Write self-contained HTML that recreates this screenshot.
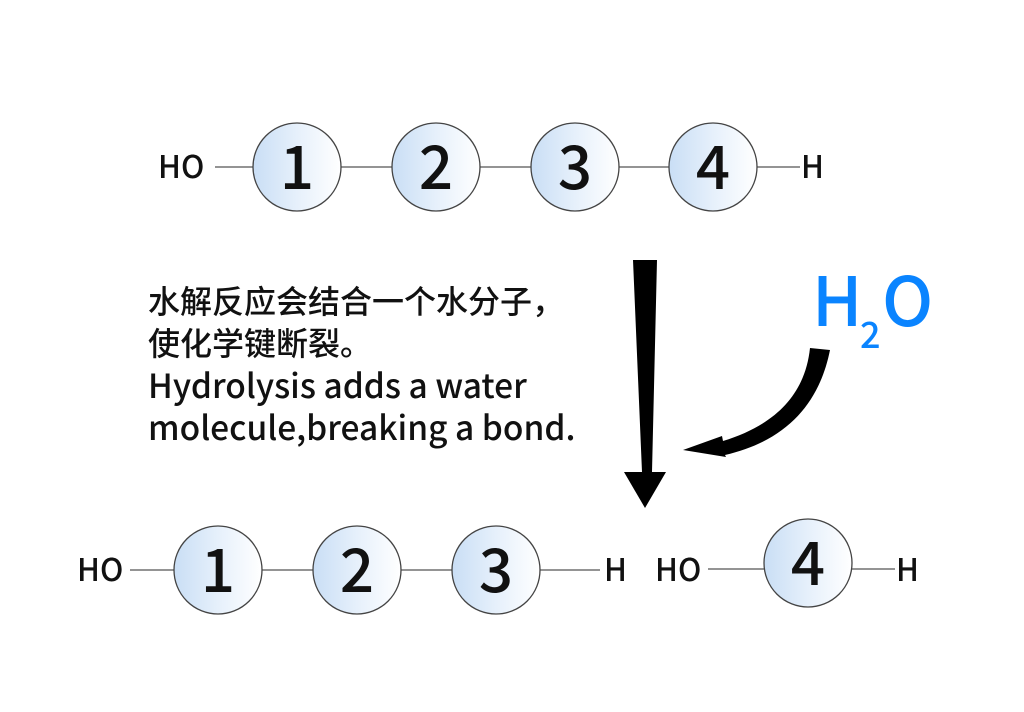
<!DOCTYPE html>
<html><head><meta charset="utf-8"><style>
html,body{margin:0;padding:0;background:#fff;}
svg{display:block;}
text{font-family:"Noto Sans CJK SC","Liberation Sans",sans-serif;font-weight:500;}
</style></head><body>
<svg width="1024" height="712" viewBox="0 0 1024 712" xmlns="http://www.w3.org/2000/svg">
<defs>
<linearGradient id="g" x1="0" y1="0" x2="1" y2="0">
<stop offset="0" stop-color="#c9def5"/><stop offset="0.5" stop-color="#e6f0fb"/><stop offset="1" stop-color="#ffffff"/>
</linearGradient>
</defs>
<g stroke="#555" stroke-width="1.3">
<line x1="215" y1="167" x2="800" y2="167"/>
<line x1="130" y1="570" x2="600" y2="570"/>
<line x1="708" y1="569" x2="895" y2="569"/>
</g>
<g stroke="#444" stroke-width="1.3" fill="url(#g)">
<circle cx="297" cy="167" r="44"/><circle cx="436" cy="167" r="44"/>
<circle cx="575" cy="167" r="44"/><circle cx="713" cy="167" r="44"/>
<circle cx="218" cy="570" r="44"/><circle cx="357" cy="570" r="44"/>
<circle cx="496" cy="570" r="44"/><circle cx="808" cy="563" r="44"/>
</g>
<g font-size="60" text-anchor="middle" fill="#111">
<text x="297" y="189">1</text><text x="436" y="189">2</text>
<text x="575" y="189">3</text><text x="713" y="189">4</text>
<text x="218" y="592">1</text><text x="357" y="592">2</text>
<text x="496" y="592">3</text><text x="808" y="585">4</text>
</g>
<g font-size="31" fill="#111">
<text x="158" y="178">HO</text><text x="801" y="178">H</text>
<text x="77" y="581">HO</text><text x="604" y="581">H</text>
<text x="655" y="581">HO</text><text x="896" y="581">H</text>
</g>
<g font-size="32" fill="#111">
<text x="148" y="313">水解反应会结合一个水分子，</text>
<text x="148" y="355">使化学键断裂。</text>
</g>
<g font-size="33.5" fill="#111">
<text x="148" y="398">Hydrolysis adds a water</text>
<text x="148" y="440">molecule,breaking a bond.</text>
</g>
<text x="812" y="326" font-size="68" fill="#0a84ff">H</text>
<text x="860" y="348" font-size="36" fill="#0a84ff">2</text>
<text x="882" y="326" font-size="68" fill="#0a84ff">O</text>
<polygon points="633,260 657,260 652,472 666,472 645,508 624,472 642,472" fill="#000"/>
<path d="M810,348 L830,350 C820,400 790,440 725,455 L726,457 L683,450 L722,436 L723,441 C775,425 805,395 810,348 Z" fill="#000"/>
</svg>
</body></html>
